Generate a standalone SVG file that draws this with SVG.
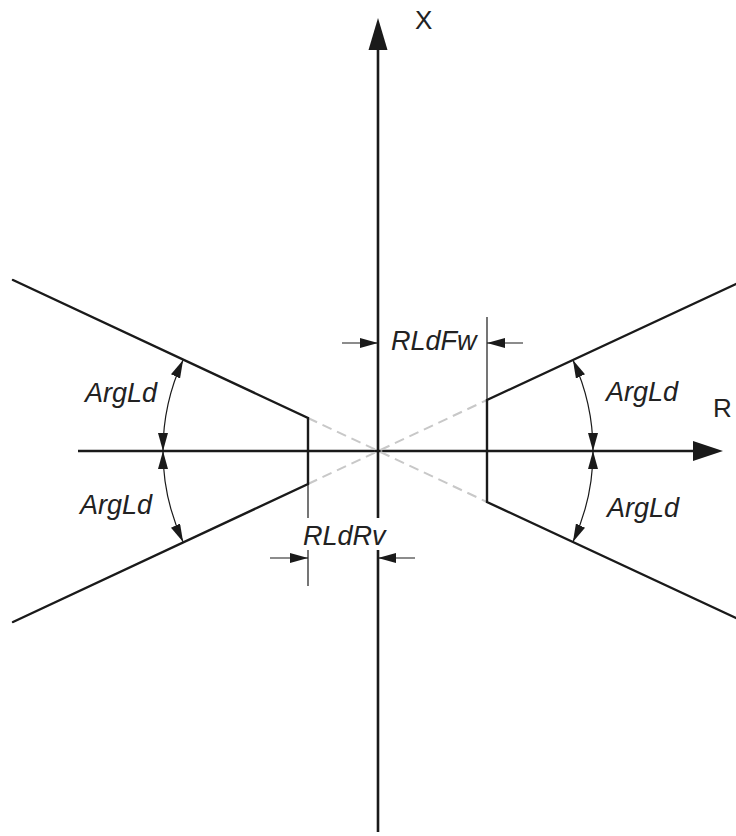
<svg xmlns="http://www.w3.org/2000/svg" width="736" height="836" viewBox="0 0 736 836">
<style>
.axis{stroke:#1a1a1a;stroke-width:2.6;fill:none}
.char{stroke:#1a1a1a;stroke-width:2.4;fill:none;stroke-linecap:round}
.thin{stroke:#1a1a1a;stroke-width:1.2;fill:none}
.dash{stroke:#c8c8c8;stroke-width:2;fill:none;stroke-dasharray:10 6}
.lbl{font-family:"Liberation Sans",Arial,sans-serif;font-size:27px;font-style:italic;fill:#222}
.ax{font-family:"Liberation Sans",Arial,sans-serif;font-size:26px;fill:#222}
.head{fill:#1a1a1a}
</style>
<defs>
<marker id="arr" markerUnits="userSpaceOnUse" markerWidth="18" markerHeight="10" refX="18" refY="5" orient="auto-start-reverse" viewBox="0 0 18 10">
<path d="M0,0 L18,5 L0,10 z" fill="#1a1a1a"/>
</marker>
</defs>
<g id="axes">
<line class="axis" x1="378" y1="832" x2="378" y2="48"/>
<polygon class="head" points="378,18 368.5,50 387.5,50"/>
<line class="axis" x1="78" y1="451" x2="695" y2="451"/>
<polygon class="head" points="723,451 693,441 693,461"/>
<text class="ax" x="415" y="29">X</text>
<text class="ax" x="713" y="417">R</text>
</g>
<g id="guides">
<line class="dash" x1="308" y1="418" x2="487" y2="502"/>
<line class="dash" x1="308" y1="484" x2="487" y2="400"/>
</g>
<g id="characteristic">
<polyline class="char" points="13,280 308,418 308,484 13,622"/>
<polyline class="char" points="736,284 487,400 487,502 736,618"/>
<line class="thin" x1="487" y1="400" x2="487" y2="317"/>
<line class="thin" x1="308" y1="484" x2="308" y2="586"/>
</g>
<g id="connectors">
<path class="thin" d="M163,451 A215,215 0 0 1 183.1,360.1" marker-start="url(#arr)" marker-end="url(#arr)"/>
<path class="thin" d="M163,451 A215,215 0 0 0 183.1,541.9" marker-start="url(#arr)" marker-end="url(#arr)"/>
<path class="thin" d="M593,451 A215,215 0 0 0 572.9,360.1" marker-start="url(#arr)" marker-end="url(#arr)"/>
<path class="thin" d="M593,451 A215,215 0 0 1 572.9,541.9" marker-start="url(#arr)" marker-end="url(#arr)"/>
<line class="thin" x1="342" y1="343" x2="378" y2="343" marker-end="url(#arr)"/>
<line class="thin" x1="523" y1="343" x2="487" y2="343" marker-end="url(#arr)"/>
<line class="thin" x1="270" y1="558" x2="308" y2="558" marker-end="url(#arr)"/>
<line class="thin" x1="415" y1="558" x2="378" y2="558" marker-end="url(#arr)"/>
</g>
<g id="labels">
<text class="lbl" x="85" y="402">ArgLd</text>
<text class="lbl" x="80" y="514">ArgLd</text>
<text class="lbl" x="606" y="401">ArgLd</text>
<text class="lbl" x="607" y="517">ArgLd</text>
<text class="lbl" x="391" y="350">RLdFw</text>
<rect x="300" y="518" width="92" height="32" fill="#fff"/>
<text class="lbl" x="303" y="545">RLdRv</text>
</g>
</svg>
